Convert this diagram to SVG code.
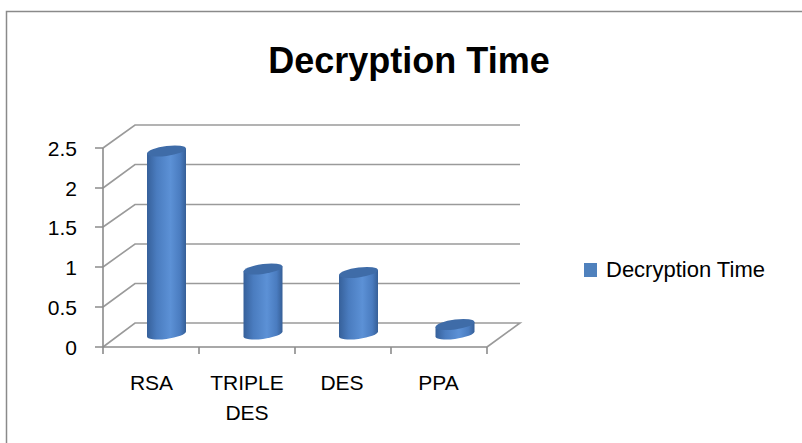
<svg xmlns="http://www.w3.org/2000/svg" width="802" height="443" viewBox="0 0 802 443">
<defs>
<style>
.grid{stroke:#9a9a9a;stroke-width:1.6;fill:none}
.ax{stroke:#8c8c8c;stroke-width:1.6;fill:none}
.lbl{font-family:"Liberation Sans",Arial,sans-serif;font-size:21px;fill:#000}
.ylbl{text-anchor:end}
.clbl{text-anchor:middle}
.title{font-family:"Liberation Sans",Arial,sans-serif;font-size:36px;font-weight:bold;fill:#000;text-anchor:middle}
.body{fill:url(#cyl)}
.top{fill:#3f6ca8}
</style>
<linearGradient id="cyl" x1="0" y1="0" x2="1" y2="0">
<stop offset="0" stop-color="#36609a"/>
<stop offset="0.25" stop-color="#4a7cbf"/>
<stop offset="0.6" stop-color="#5c91d6"/>
<stop offset="0.85" stop-color="#4a7cc0"/>
<stop offset="1" stop-color="#365f97"/>
</linearGradient>
</defs>
<rect x="6.5" y="11.5" width="800" height="440" fill="#fff" stroke="#8a8a8a" stroke-width="1.5"/>
<text class="title" x="409" y="73">Decryption Time</text>
<g id="walls">
<path class="grid" d="M103,148 L135,125 H520 M103,188 L135,164.5 H520 M103,227 L135,204.5 H520 M103,267 L135,244 H520 M103,307 L135,283.5 H520 M103,347 L135,323 H520 L487,347"/>
</g>
<g id="axes">
<path class="ax" d="M103,148 V347 H487 M95,148 H103 M95,188 H103 M95,227 H103 M95,267 H103 M95,307 H103 M95,347 H103 M103,347 V354 M199,347 V354 M295,347 V354 M391,347 V354 M487,347 V354"/>
</g>
<g id="ylabels" class="lbl ylbl">
<text x="77" y="155.5">2.5</text>
<text x="77" y="195.5">2</text>
<text x="77" y="234.5">1.5</text>
<text x="77" y="274.5">1</text>
<text x="77" y="314.5">0.5</text>
<text x="77" y="354.5">0</text>
</g>
<g id="xlabels" class="lbl clbl">
<text x="151.5" y="390">RSA</text>
<text x="247" y="390">TRIPLE</text>
<text x="247" y="420">DES</text>
<text x="342" y="390">DES</text>
<text x="438.5" y="390">PPA</text>
</g>
<g id="bar-rsa" transform="translate(166.5,0) skewY(-7) translate(-166.5,0)">
<path class="body" d="M147,151 V334 A19.5,5 0 0 0 186,334 V151 Z"/>
<ellipse class="top" cx="166.5" cy="151" rx="19.5" ry="5"/>
</g>
<g id="bar-tripledes" transform="translate(263,0) skewY(-7) translate(-263,0)">
<path class="body" d="M243.5,269 V334 A19.5,5 0 0 0 282.5,334 V269 Z"/>
<ellipse class="top" cx="263" cy="269" rx="19.5" ry="5"/>
</g>
<g id="bar-des" transform="translate(358.5,0) skewY(-7) translate(-358.5,0)">
<path class="body" d="M339,272.5 V334 A19.5,5 0 0 0 378,334 V272.5 Z"/>
<ellipse class="top" cx="358.5" cy="272.5" rx="19.5" ry="5"/>
</g>
<g id="bar-ppa" transform="translate(455,0) skewY(-7) translate(-455,0)">
<path class="body" d="M435.5,324.5 V334 A19.5,5 0 0 0 474.5,334 V324.5 Z"/>
<ellipse class="top" cx="455" cy="324.5" rx="19.5" ry="5"/>
</g>
<g id="legend">
<rect x="584" y="263" width="13" height="14" fill="#4f81bd"/>
<text class="lbl" x="606" y="277" style="font-size:22px">Decryption Time</text>
</g>
</svg>
